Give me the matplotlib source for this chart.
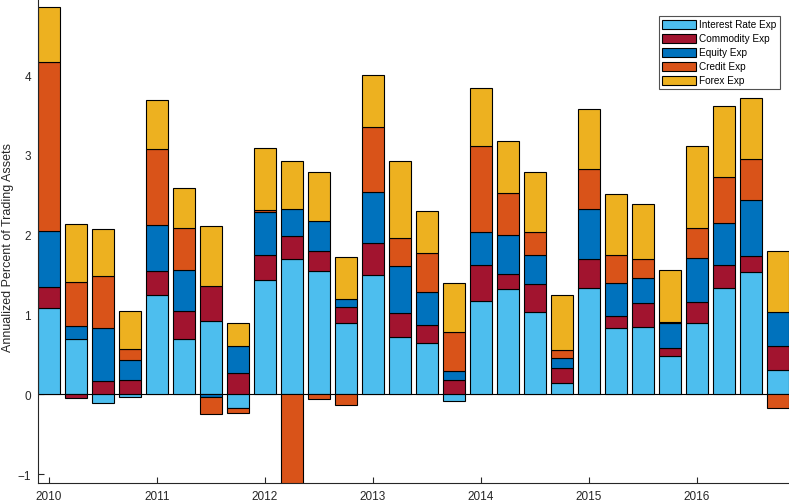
import numpy as np
import matplotlib
matplotlib.use("Agg")
import matplotlib.pyplot as plt
from matplotlib.patches import Patch

plt.rcParams['font.family'] = ['Liberation Sans', 'DejaVu Sans']

quarters = [2010 + i * 0.25 for i in range(28)]
series_names = ["Interest Rate Exp", "Commodity Exp", "Equity Exp", "Credit Exp", "Forex Exp"]
colors = ["#4DBEEE", "#A2142F", "#0072BD", "#D95319", "#EDB120"]

interest_rate = [1.08, 0.69, -0.11, -0.03, 1.25, 0.69, 0.915, -0.17,
                 1.43, 1.695, 1.545, 0.89, 1.495, 0.72, 0.64, -0.08,
                 1.165, 1.315, 1.035, 0.14, 1.33, 0.83, 0.85, 0.475,
                 0.90, 1.335, 1.53, 0.305]
commodity = [0.27, -0.04, 0.17, 0.175, 0.29, 0.36, 0.44, 0.27,
             0.31, 0.285, 0.25, 0.205, 0.405, 0.30, 0.23, 0.175,
             0.46, 0.19, 0.345, 0.185, 0.36, 0.15, 0.29, 0.11,
             0.26, 0.29, 0.205, 0.30]
equity = [0.70, 0.17, 0.66, 0.25, 0.58, 0.51, -0.03, 0.33,
          0.545, 0.34, 0.38, 0.105, 0.64, 0.59, 0.41, 0.115,
          0.405, 0.495, 0.36, 0.135, 0.63, 0.42, 0.32, 0.31,
          0.545, 0.52, 0.705, 0.43]
credit = [2.11, 0.55, 0.65, 0.14, 0.95, 0.52, -0.22, -0.06,
          0.02, -1.25, -0.06, -0.135, 0.815, 0.35, 0.49, 0.49,
          1.085, 0.52, 0.30, 0.10, 0.50, 0.34, 0.235, 0.015,
          0.385, 0.575, 0.51, -0.165]
forex = [0.69, 0.72, 0.59, 0.48, 0.62, 0.51, 0.76, 0.30,
         0.78, 0.61, 0.605, 0.52, 0.645, 0.96, 0.53, 0.62,
         0.725, 0.66, 0.74, 0.68, 0.75, 0.77, 0.685, 0.65,
         1.025, 0.895, 0.765, 0.765]
years = [2010, 2011, 2012, 2013, 2014, 2015, 2016]
yticks = [-1, 0, 1, 2, 3, 4]

data = np.array([interest_rate, commodity, equity, credit, forex])
x = np.array(quarters)

fig = plt.figure(figsize=(7.89, 5.02), dpi=100)
ax = fig.add_axes([38 / 789, 18 / 502, 751 / 789, 484 / 502])

axis_color = "#262626"
ax.axhline(0, color="black", lw=0.8, zorder=1)

pos_bottom = np.zeros(len(x))
neg_bottom = np.zeros(len(x))
for vals, name, c in zip(data, series_names, colors):
    bottoms = np.where(vals >= 0, pos_bottom, neg_bottom)
    ax.bar(x, vals, width=0.2, bottom=bottoms, color=c, edgecolor="black",
           linewidth=0.8, label=name, zorder=2)
    pos_bottom = pos_bottom + np.where(vals >= 0, vals, 0)
    neg_bottom = neg_bottom + np.where(vals < 0, vals, 0)

ax.set_xlim(2010 - 11 / 108, 2016 + 92 / 108)
ax.set_ylim(-1.111, 4.954)
ax.set_xticks(years)
ax.set_xticklabels([str(y) for y in years])
ax.set_yticks(yticks)
ax.tick_params(direction="in", length=4, width=0.8, colors=axis_color,
               labelsize=8.5, pad=5)
for s in ["top", "right"]:
    ax.spines[s].set_visible(False)
for s in ["left", "bottom"]:
    ax.spines[s].set_color(axis_color)
    ax.spines[s].set_linewidth(0.8)
ax.set_ylabel("Annualized Percent of Trading Assets", fontsize=9, color=axis_color)
ax.yaxis.set_label_coords(-(38 - 14) / 751, 0.5 + (395 - 250) / 484 * 0 + (484 / 2 - 247) / 484)

handles = [Patch(facecolor=c, edgecolor="black", linewidth=0.8, label=n)
           for c, n in zip(colors, series_names)]
leg = ax.legend(handles=handles, loc="upper right", fontsize=7.2,
                bbox_to_anchor=(780 / 789, 1 - 17 / 502), bbox_transform=fig.transFigure,
                frameon=True, fancybox=False, edgecolor="#262626",
                handlelength=3.4, handleheight=1.0, handletextpad=0.3,
                labelspacing=0.4, borderpad=0.35, borderaxespad=0)
leg.get_frame().set_linewidth(0.8)

fig.savefig("out.png", dpi=100)
